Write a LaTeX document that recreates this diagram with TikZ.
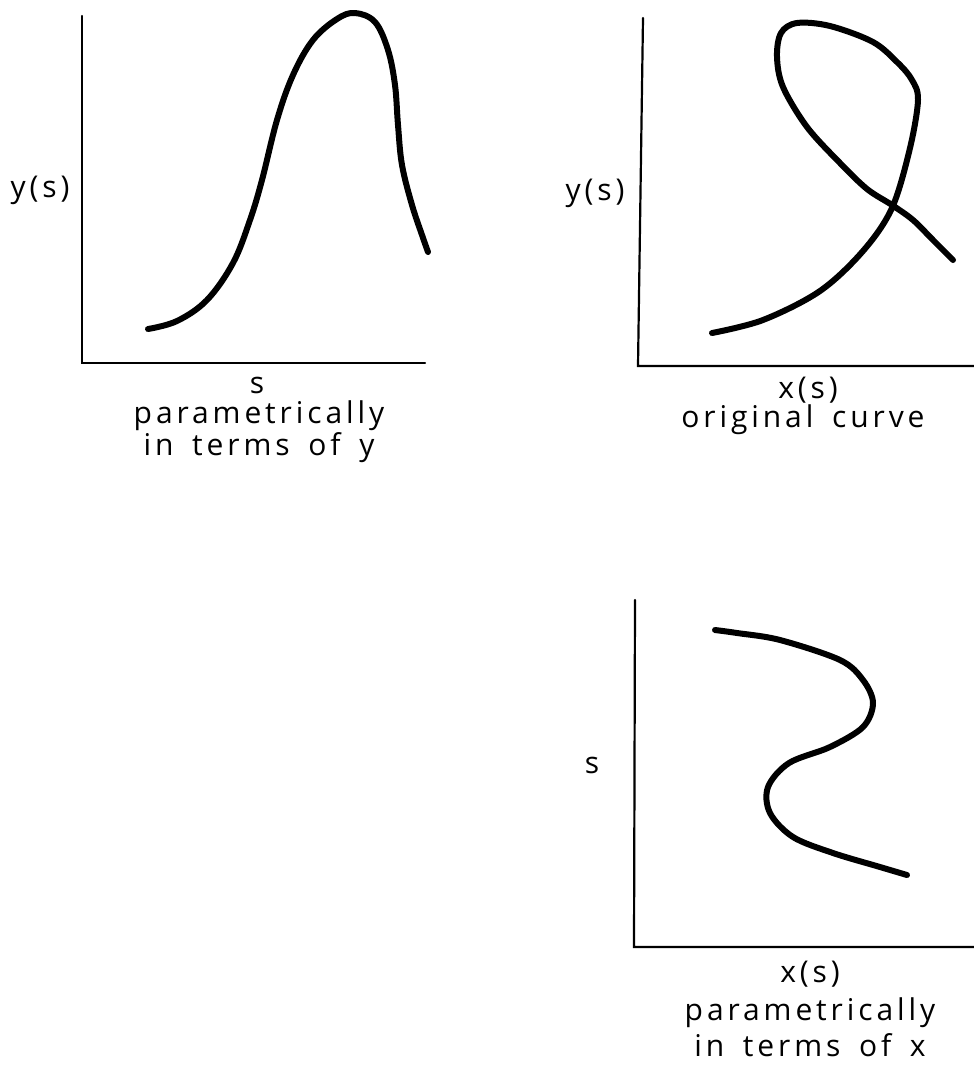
\documentclass[tikz,border=0pt]{standalone}
\usepackage{fontspec}
\setmainfont{Open Sans}[LetterSpace=13,WordSpace=1.6]
\begin{document}
\begin{tikzpicture}[x=1pt,y=-1pt,
  axis/.style={line width=2.2pt, line cap=round},
  curve/.style={line width=6pt, line cap=round, line join=round},
  lbl/.style={font=\fontsize{30}{34}\selectfont, inner sep=0pt, anchor=base}]
\useasboundingbox (0,0) rectangle (974,1077);
% panel 1
\coordinate (a1t) at (82,16);
\coordinate (a1o) at (82,363);
\coordinate (a1r) at (425,363);
\draw[axis] (a1t) -- (a1o) -- (a1r);
\draw[curve] plot[smooth, tension=0.6] coordinates {(148,329) (177,321) (207,300) (233,263) (250,220) (262,180) (277,120) (293,75) (313,40) (337,19) (355,13) (375,22) (388,50) (395,85) (398,125) (402,165) (412,205) (422,235) (428,252)};
\node[lbl] (y1) at (40,197) {y(s)};
\node[lbl] (s1) at (257,393) {s};
\node[lbl] (c1a) at (259,423) {parametrically};
\node[lbl] (c1b) at (259,455) {in terms of y};
% panel 2
\coordinate (a2t) at (643,18);
\coordinate (a2o) at (638,366);
\coordinate (a2r) at (974,366);
\draw[axis] (a2t) -- (a2o) -- (a2r);
\draw[curve] plot[smooth, tension=0.55] coordinates {(712,333) (763,320) (820,291) (863,251) (892,208) (910,148) (918,100) (912,80) (898,63) (873,42) (830,26) (797,23) (781,33) (777,57) (783,87) (807,127) (840,163) (867,189) (892,205) (913,220) (933,240) (953,260)};
\node[lbl] (y2) at (595,200) {y(s)};
\node[lbl] (x2) at (808,398) {x(s)};
\node[lbl] (c2) at (803,427) {original curve};
% panel 3
\coordinate (a3t) at (635,600);
\coordinate (a3o) at (634,947);
\coordinate (a3r) at (974,947);
\draw[axis] (a3t) -- (a3o) -- (a3r);
\draw[curve] plot[smooth, tension=0.55] coordinates {(715,630) (737,633) (780,640) (840,660) (863,680) (873,703) (863,727) (830,747) (789,763) (768,787) (770,813) (793,837) (833,853) (880,867) (907,875)};
\node[lbl] (s3) at (592,773) {s};
\node[lbl] (x3) at (810,982) {x(s)};
\node[lbl] (c3a) at (810,1020) {parametrically};
\node[lbl] (c3b) at (810,1056) {in terms of x};
\end{tikzpicture}
\end{document}
